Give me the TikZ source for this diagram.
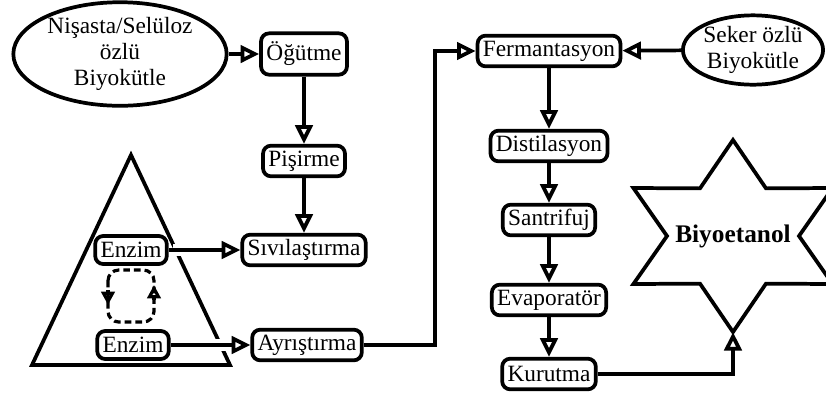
\documentclass[tikz,border=0pt]{standalone}
\usepackage{fontspec}
\setmainfont{Liberation Serif}
\usetikzlibrary{arrows.meta,shapes.geometric}
\tikzset{
  procbox/.style={
    draw=black,
    line width=2.8pt,
    rounded corners=6pt,
    inner xsep=4pt,
    inner ysep=2pt,
    minimum height=23pt,
    font=\fontsize{17.5}{19.5}\selectfont
  },
  source/.style={
    draw=black,
    ellipse,
    line width=2.8pt,
    inner sep=0pt,
    align=center,
    font=\fontsize{17.5}{19.5}\selectfont
  },
  link/.style={line width=2.8pt, -{Triangle[open,length=14pt,width=13pt]}},
  looplink/.style={line width=2.4pt, -{Triangle[open,length=10pt,width=10pt]}},
  crossing/.style={preaction={draw=white, -, line width=9pt, shorten <=3.5pt, shorten >=16pt}},
  outline/.style={line width=2.8pt, line join=miter}
}

\begin{document}
\begin{tikzpicture}[x=0.75pt,y=-0.75pt]
  \useasboundingbox (0,0) rectangle (826,394);
  % enzyme triangle
  \draw[outline] (131,155) -- (230,365) -- (32,365) -- cycle;
  % sources
  \node[source, minimum width=160pt, minimum height=70pt] (nisasta) at (120,54)
    {Nişasta/Selüloz\\özlü\\Biyokütle};
  \node[source, minimum width=100pt, minimum height=52pt] (seker) at (753,50)
    {Seker özlü\\Biyokütle};
  % left column
  \node[procbox, minimum height=31pt] (ogutme) at (304,54) {Öğütme};
  \node[procbox] (pisirme) at (304,161) {Pişirme};
  \node[procbox] (sivi) at (304,250) {Sıvılaştırma};
  \node[procbox] (ayris) at (307,345) {Ayrıştırma};
  \node[procbox, minimum height=21pt] (enzim1) at (131,250) {Enzim};
  \node[procbox, minimum height=21pt] (enzim2) at (133,345) {Enzim};
  % right column
  \node[procbox] (ferm) at (549,51) {Fermantasyon};
  \node[procbox] (dist) at (549,146) {Distilasyon};
  \node[procbox] (sant) at (549,220) {Santrifuj};
  \node[procbox] (evap) at (549,300) {Evaporatör};
  \node[procbox] (kuru) at (549,374) {Kurutma};
  % product star
  \begin{scope}[shift={(733,236)}]
    \draw[outline] (90:115 and 96) -- (60:66 and 55) -- (30:115 and 96)
      -- (0:66 and 55) -- (-30:115 and 96) -- (-60:66 and 55)
      -- (-90:115 and 96) -- (-120:66 and 55) -- (-150:115 and 96)
      -- (180:66 and 55) -- (150:115 and 96) -- (120:66 and 55) -- cycle;
    \coordinate (starbot) at (90:115 and 96);
  \end{scope}
  \node[font=\bfseries\fontsize{19}{22}\selectfont] (bio) at (733,236) {Biyoetanol};
  % enzyme cycle
  \draw[dash pattern=on 5pt off 3pt, line width=2.4pt, rounded corners=8pt] (108,270) rectangle (154,322);
  \draw[looplink] (108,290) -- (108,305);
  \draw[looplink] (154,300) -- (154,285);
  % connectors
  \draw[link] (nisasta) -- (ogutme);
  \draw[link] (ogutme) -- (pisirme);
  \draw[link] (pisirme) -- (sivi);
  \draw[link, crossing] (enzim1) -- (sivi);
  \draw[link, crossing] (enzim2) -- (ayris);
  \coordinate (bend) at (435,345);
  \draw[link] (ayris.east) -- (bend) |- (ferm.west);
  \draw[link] (seker) -- (ferm);
  \draw[link] (ferm) -- (dist);
  \draw[link] (dist) -- (sant);
  \draw[link] (sant) -- (evap);
  \draw[link] (evap) -- (kuru);
  \draw[link] (kuru.east) -| (starbot);
\end{tikzpicture}
\end{document}
